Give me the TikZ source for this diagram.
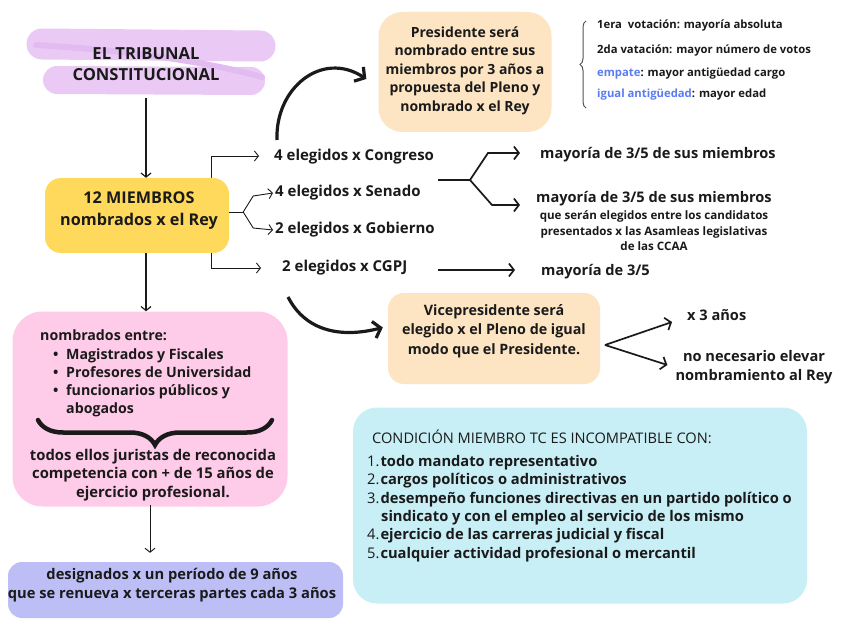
\documentclass[tikz,border=0pt]{standalone}
\usepackage{fontspec}
\setmainfont{Open Sans}
\usetikzlibrary{arrows.meta,decorations.pathreplacing,calc}
\definecolor{ytc}{HTML}{FFD95C}
\definecolor{peach}{HTML}{FDE5C4}
\definecolor{pinkc}{HTML}{FECBE9}
\definecolor{lav}{HTML}{BDBEF6}
\definecolor{bluec}{HTML}{C8EEF6}
\definecolor{purp}{HTML}{EACAF4}
\definecolor{purpd}{HTML}{E2BCF1}
\definecolor{linkblue}{HTML}{5A7CF2}
\definecolor{ink}{HTML}{1A1A1A}
\newcommand{\fs}[2]{\fontsize{#1}{#2}\selectfont}
\tikzset{
  txt/.style={inner sep=0pt, text=ink, font=\bfseries\fs{14.6}{18.5}},
  small/.style={inner sep=0pt, text=ink, font=\bfseries\fs{11.6}{15.5}},
  listtxt/.style={inner sep=0pt, text=ink, font=\bfseries\fs{11.3}{14}},
  boxbg/.style={rounded corners=16pt, inner sep=0pt},
  thinline/.style={draw=ink, line width=0.9pt},
  thinarr/.style={draw=ink, line width=0.9pt, -{Straight Barb[length=4pt,width=10pt]}},
  medarr/.style={draw=ink, line width=1.7pt, -{Straight Barb[length=5pt,width=13pt]}},
  bigarr/.style={draw=ink, line width=3.2pt, -{Straight Barb[length=7pt,width=17pt]}},
}
\begin{document}
\begin{tikzpicture}[x=1pt,y=-1pt]
\fill[white] (0,0) rectangle (848,636);
\useasboundingbox (0,0) rectangle (848,636);

% title highlight strokes
\draw[purp, line width=31pt, line cap=round] (42,44) -- (260,46);
\draw[purp, line width=28pt, line cap=round] (57,80) -- (251,81);
\draw[purpd, line width=6pt, line cap=round] (36,45) .. controls (120,50) and (200,60) .. (262,77);
\node[txt, font=\bfseries\fs{16.6}{21.5}, align=center] (title) at (146,64) {EL TRIBUNAL\\CONSTITUCIONAL};

% bracket line behind yellow box
\coordinate (bt) at (211,156);
\coordinate (bb) at (211,268);
\draw[thinline] (bt) -- (bb);

% yellow box
\node[boxbg, fill=ytc, minimum width=184pt, minimum height=75pt] (miembros) at (137,215.5) {};
\node[txt, font=\bfseries\fs{16.2}{22}, align=center] (miembrostxt) at (139,211) {12 MIEMBROS\\nombrados x el Rey};

% elegidos
\node[txt, font=\bfseries\fs{15}{18}, anchor=west] (cong) at (274,157) {4 elegidos x Congreso};
\node[txt, font=\bfseries\fs{15}{18}, anchor=west] (sen) at (275,193) {4 elegidos x Senado};
\node[txt, font=\bfseries\fs{15}{18}, anchor=west] (gob) at (275,230) {2 elegidos x Gobierno};
\node[txt, font=\bfseries\fs{15}{18}, anchor=west] (cgpj) at (282,268) {2 elegidos x CGPJ};

\draw[thinarr] (bt) -- ($(cong.west)+(-15,-1)$);
\draw[thinarr] (bb) -- ($(cgpj.west)+(-21,0)$);
\draw[thinline] ($(miembros.east)+(0,-3.5)$) -- ++(14,0) coordinate (mj);
\draw[thinarr] (mj) -- ++(10,-16) -- ($(sen.west)+(-2,0)$);
\draw[thinarr] (mj) -- ++(10,16) -- ($(gob.west)+(-2,0)$);

% presidente
\node[boxbg, rounded corners=24pt, fill=peach, minimum width=173pt, minimum height=120pt] (pres) at (465,72) {};
\node[txt, font=\bfseries\fs{14}{18.5}, align=center] (prestxt) at (465,70.5) {Presidente será\\nombrado entre sus\\miembros por 3 años a\\propuesta del Pleno y\\nombrado x el Rey};
\coordinate (c1) at (277,140);
\draw[bigarr] (c1) .. controls (275,88) and (322,50) .. ($(pres.west)+(-12,7)$);

% right list with brace
\coordinate (brb) at (586,108);
\coordinate (brt) at (586,21);
\draw[ink!75, line width=1pt, decorate, decoration={brace, amplitude=6pt}] (brb) -- (brt);
\node[listtxt, anchor=west] (v1) at (597,26) {1era\ \ votación: mayoría absoluta};
\node[listtxt, anchor=west] (v2) at (597,51) {2da vatación: mayor número de votos};
\node[listtxt, anchor=west] (v3) at (597,74) {\textcolor{linkblue}{empate}: mayor antigüedad cargo};
\node[listtxt, anchor=west] (v4) at (597,95) {\textcolor{linkblue}{igual antigüedad}: mayor edad};

% mayorías
\node[txt, anchor=west] (m1) at (540,155) {mayoría de 3/5 de sus miembros};
\node[txt, anchor=west] (m2) at (536,199) {mayoría de 3/5 de sus miembros};
\node[small, align=center] (m2b) at (654,231) {que serán elegidos entre los candidatos\\presentados x las Asamleas legislativas\\de las CCAA};
\node[txt, anchor=west] (m3) at (541,272) {mayoría de 3/5};

\coordinate (rs) at (438,180);
\draw[draw=ink, line width=1.7pt] (rs) -- ++(32,0) coordinate (rj);
\draw[medarr] (rj) -- ++(18,-27) -- ($(m1.west)+(-20,-2)$);
\draw[medarr] (rj) -- ++(22,25) -- ($(m2.west)+(-16,6)$);
\coordinate (cs) at (438,270);
\draw[medarr] (cs) -- ($(m3.west)+(-26,-2)$);

% vicepresidente
\node[boxbg, fill=peach, minimum width=212pt, minimum height=91pt] (vice) at (494,338.5) {};
\node[txt, font=\bfseries\fs{14.3}{19.5}, align=center] (vicetxt) at (494,331) {Vicepresidente será\\elegido x el Pleno de igual\\modo que el Presidente.};
\coordinate (c2) at (288,297);
\draw[bigarr] (c2) .. controls (306,332) and (342,338) .. ($(vice.west)+(-5,-11)$);

\node[txt, anchor=west] (x3) at (687,315) {x 3 años};
\node[txt, align=center] (nonec) at (754,367) {no necesario elevar\\nombramiento al Rey};
\coordinate (vv) at (605,345);
\draw[medarr] (vv) -- ($(x3.west)+(-15,7)$);
\draw[medarr] (vv) -- ($(nonec.west)+(-8,-2)$);

% title -> miembros
\coordinate (a1) at (146,98);
\draw[thinarr, line width=1.2pt] (a1) -- (a1 |- miembros.north);

% pink box
\node[boxbg, rounded corners=30pt, fill=pinkc, minimum width=275pt, minimum height=195pt] (pink) at (150,409) {};
\draw[thinarr, line width=1.2pt] (miembros.south -| a1) -- (a1 |- pink.north);
\node[txt, font=\bfseries\fs{14.2}{18.2}, anchor=north west, align=left] (pinklist) at (40,330) {nombrados entre:\\
\hspace*{13pt}\makebox[13pt][l]{\textbullet}Magistrados y Fiscales\\
\hspace*{13pt}\makebox[13pt][l]{\textbullet}Profesores de Universidad\\
\hspace*{13pt}\makebox[13pt][l]{\textbullet}funcionarios públicos y\\
\hspace*{26pt}abogados};
\coordinate (pbr) at (272,420);
\coordinate (pbl) at (38,420);
\draw[ink, line width=4.5pt, line cap=round, decorate, decoration={brace, amplitude=25pt}] (pbr) -- (pbl);
\node[txt, font=\bfseries\fs{14.8}{18.5}, align=center] (jur) at (153,475) {todos ellos juristas de reconocida\\competencia con + de 15 años de\\ejercicio profesional.};

% lavender box
\node[boxbg, rounded corners=14pt, fill=lav, minimum width=335pt, minimum height=56pt] (lavb) at (175.5,590) {};
\node[txt, font=\bfseries\fs{14.7}{19}, align=center] (lavtxt) at (172,585.5) {designados x un período de 9 años\\que se renueva x terceras partes cada 3 años};
\coordinate (a4) at (150,505);
\draw[thinarr] (a4) -- ($(lavb.north)+(-25.5,-9)$);

% blue box
\node[boxbg, rounded corners=24pt, fill=bluec, minimum width=454pt, minimum height=196pt] (blue) at (580,505.5) {};
\node[inner sep=0pt, text=ink, font=\fs{14.6}{18}, anchor=west] (bluetitle) at (372,437) {CONDICIÓN MIEMBRO TC ES INCOMPATIBLE CON:};
\node[txt, font=\bfseries\fs{14.7}{18.4}, anchor=north west, align=left] (bluelist) at (367,455) {%
{\mdseries 1.}\hspace{1pt}todo mandato representativo\\
{\mdseries 2.}\hspace{1pt}cargos políticos o administrativos\\
{\mdseries 3.}\hspace{1pt}desempeño funciones directivas en un partido político o\\
\hspace*{14pt}sindicato y con el empleo al servicio de los mismo\\
{\mdseries 4.}\hspace{1pt}ejercicio de las carreras judicial y fiscal\\
{\mdseries 5.}\hspace{1pt}cualquier actividad profesional o mercantil};
\end{tikzpicture}
\end{document}
